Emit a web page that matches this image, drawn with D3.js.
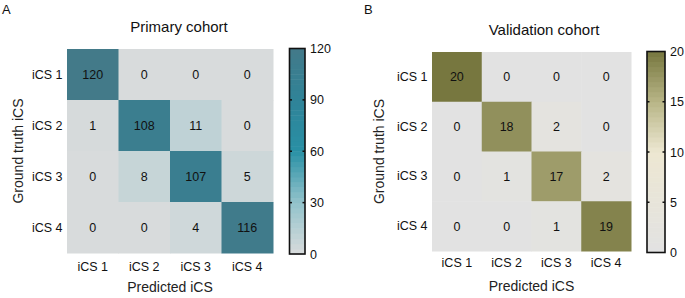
<!DOCTYPE html>
<html>
<head>
<meta charset="utf-8">
<script src="https://cdn.jsdelivr.net/npm/d3@7"></script>
<style>
  body { margin: 0; background: #fff; }
  svg { display: block; font-family: "Liberation Sans", Arial, sans-serif; }
</style>
</head>
<body>
<svg id="chart" width="685" height="298"></svg>
<script>
// class labels (rows = ground truth, cols = predicted)
let categories = ['iCS 1', 'iCS 2', 'iCS 3', 'iCS 4']

let primaryValues = [
    [120, 0, 0, 0],
    [1, 108, 11, 0],
    [0, 8, 107, 5],
    [0, 0, 4, 116]
]
let primaryTicks = [0, 30, 60, 90, 120]

let validationValues = [
    [20, 0, 0, 0],
    [0, 18, 2, 0],
    [0, 1, 17, 2],
    [0, 0, 1, 19]
]
let validationTicks = [0, 5, 10, 15, 20]

let svg = d3.select('#chart')

function drawPanel(opt) {
    let g = svg.append('g')

    let x = d3.scaleBand().domain(categories).range([opt.left, opt.right])
    let y = d3.scaleBand().domain(categories).range([opt.top, opt.bottom])
    let maxv = opt.ticks[opt.ticks.length - 1]
    let color = d3.scaleLinear()
        .domain(opt.stops.map(s => s[0] * maxv))
        .range(opt.stops.map(s => s[1]))
        .interpolate(d3.interpolateRgb)

    // cells
    let cells = []
    opt.values.forEach((row, i) => {
        row.forEach((v, j) => cells.push({ r: categories[i], c: categories[j], v }))
    })
    g.selectAll('rect.cell')
        .data(cells)
        .join('rect')
        .attr('class', 'cell')
        .attr('x', d => x(d.c))
        .attr('y', d => y(d.r))
        .attr('width', x.bandwidth() + 0.5)
        .attr('height', y.bandwidth() + 0.5)
        .attr('fill', d => color(d.v))

    g.selectAll('text.val')
        .data(cells)
        .join('text')
        .attr('class', 'val')
        .attr('x', d => x(d.c) + x.bandwidth() / 2)
        .attr('y', d => y(d.r) + y.bandwidth() / 2 + 4.5)
        .attr('text-anchor', 'middle')
        .style('font-size', '12.5px')
        .style('fill', '#111')
        .text(d => d.v)

    // category axes
    let ax = g.append('g')
        .attr('transform', `translate(0,${opt.bottom + opt.xTickGap})`)
        .call(d3.axisBottom(x).tickSize(0))
    ax.select('.domain').remove()
    ax.selectAll('text').style('font-size', '12.5px').style('fill', '#111')
        .attr('font-family', null)

    let ay = g.append('g')
        .attr('transform', `translate(${opt.left - 1.5},0)`)
        .call(d3.axisLeft(y).tickSize(0))
    ay.select('.domain').remove()
    ay.selectAll('text').style('font-size', '12.5px').style('fill', '#111')
        .attr('font-family', null)

    // titles
    g.append('text')
        .attr('x', opt.titleX).attr('y', opt.top - 17)
        .attr('text-anchor', 'middle')
        .style('font-size', '15px').style('fill', '#111')
        .text(opt.title)

    g.append('text')
        .attr('x', (opt.left + opt.right) / 2).attr('y', opt.xLabelY)
        .attr('text-anchor', 'middle')
        .style('font-size', '14px').style('fill', '#222')
        .text('Predicted iCS')

    g.append('text')
        .attr('transform', `translate(${opt.yLabelX},${(opt.top + opt.bottom) / 2}) rotate(-90)`)
        .attr('text-anchor', 'middle')
        .style('font-size', '14px').style('fill', '#222')
        .text('Ground truth iCS')

    g.append('text')
        .attr('x', opt.letterX).attr('y', 14)
        .style('font-size', '13px').style('fill', '#111')
        .text(opt.letter)

    // colorbar
    let cb = opt.cbar
    let cy = d3.scaleLinear().domain([0, maxv]).range([cb.bottom, cb.top])
    let steps = d3.range(0, maxv, maxv / 40)
    g.selectAll('rect.cb')
        .data(steps)
        .join('rect')
        .attr('class', 'cb')
        .attr('x', cb.left)
        .attr('y', d => cy(d + maxv / 40))
        .attr('width', cb.right - cb.left)
        .attr('height', d => cy(d) - cy(d + maxv / 40) + 0.5)
        .attr('fill', d => color(d + maxv / 80))

    g.append('rect')
        .attr('x', cb.left).attr('y', cb.top)
        .attr('width', cb.right - cb.left).attr('height', cb.bottom - cb.top)
        .attr('fill', 'none').attr('stroke', '#111').attr('stroke-width', 1.6)

    let inner = opt.ticks.slice(1, -1)
    g.selectAll('line.tl')
        .data(inner)
        .join('line')
        .attr('x1', cb.left).attr('x2', cb.left + 2.5)
        .attr('y1', d => cy(d)).attr('y2', d => cy(d))
        .attr('stroke', '#111').attr('stroke-width', 1.5)
    g.selectAll('line.tr')
        .data(inner)
        .join('line')
        .attr('x1', cb.right - 2.5).attr('x2', cb.right)
        .attr('y1', d => cy(d)).attr('y2', d => cy(d))
        .attr('stroke', '#111').attr('stroke-width', 1.5)

    g.selectAll('text.cbt')
        .data(opt.ticks)
        .join('text')
        .attr('class', 'cbt')
        .attr('x', cb.right + 5)
        .attr('y', d => cy(d) + 4.5)
        .style('font-size', '12.5px').style('fill', '#111')
        .text(d => d)
}

drawPanel({
    values: primaryValues, ticks: primaryTicks,
    left: 67, right: 273, top: 49, bottom: 253,
    title: 'Primary cohort', titleX: 179, letter: 'A', letterX: 2,
    xLabelY: 292, yLabelX: 23, xTickGap: 6,
    stops: [[0, '#d8dbdc'], [0.25, '#93c3cb'], [0.5, '#2990a5'], [0.75, '#2f8398'], [1, '#437a89']],
    cbar: { left: 289.5, right: 305, top: 48.5, bottom: 254 }
})

drawPanel({
    values: validationValues, ticks: validationTicks,
    left: 432, right: 631, top: 52, bottom: 251,
    title: 'Validation cohort', titleX: 544, letter: 'B', letterX: 364,
    xLabelY: 291, yLabelX: 384, xTickGap: 4,
    stops: [[0, '#e2e2e2'], [0.5, '#ede7d2'], [0.75, '#b8b587'], [1, '#77773f']],
    cbar: { left: 647, right: 665, top: 51.5, bottom: 252.5 }
})
</script>
</body>
</html>
